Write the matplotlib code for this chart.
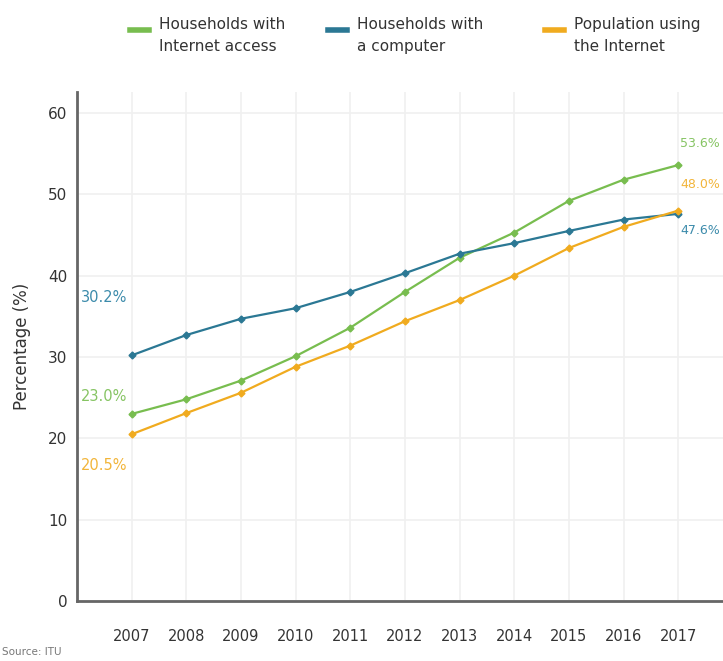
import matplotlib
matplotlib.use("Agg")
import matplotlib.pyplot as plt

years = [2007, 2008, 2009, 2010, 2011, 2012, 2013, 2014, 2015, 2016, 2017]
internet_access = [23.0, 24.8, 27.1, 30.1, 33.6, 38.0, 42.2, 45.3, 49.2, 51.8, 53.6]
computer = [30.2, 32.7, 34.7, 36.0, 38.0, 40.3, 42.7, 44.0, 45.5, 46.9, 47.6]
internet_users = [20.5, 23.1, 25.6, 28.8, 31.4, 34.4, 37.0, 40.0, 43.4, 46.0, 48.0]

series_names = ["Households with\nInternet access", "Households with\na computer",
                "Population using\nthe Internet"]
yticks = [0, 10, 20, 30, 40, 50, 60]

GREEN = "#78bd4f"
BLUE = "#2b7894"
ORANGE = "#f0ab1f"
GREEN_TXT = "#86c463"
BLUE_TXT = "#3c8bab"
ORANGE_TXT = "#f2b53a"

plt.rcParams["font.family"] = ["DejaVu Sans"]

fig = plt.figure(figsize=(7.23, 6.61), dpi=100)
ax = fig.add_axes([0.1065, 0.0908, 0.8935, 0.7702])

series = [(internet_access, GREEN), (computer, BLUE), (internet_users, ORANGE)]
for vals, col in series:
    ax.plot(years, vals, color=col, lw=1.6, marker="D", ms=3.5, zorder=3)

ax.set_xlim(2006.0, 2017.82)
ax.set_ylim(0, 62.6)
ax.set_xticks(years)
ax.set_xticklabels([str(y) for y in years], fontsize=10.5, color="#333333")
ax.set_yticks(yticks)
ax.set_yticklabels([str(t) for t in yticks], fontsize=11, color="#333333")
ax.tick_params(axis="y", length=0, pad=7)
ax.tick_params(axis="x", length=0, pad=20)
ax.grid(True, color="#f0f0f0", lw=1.2)
ax.set_axisbelow(True)
for s in ["top", "right"]:
    ax.spines[s].set_visible(False)
for s in ["left", "bottom"]:
    ax.spines[s].set_color("#666666")
    ax.spines[s].set_linewidth(2)
ax.set_ylabel("Percentage (%)", fontsize=12, color="#333333", labelpad=12)

# start and end value labels
lx0 = 2006.08
ax.text(lx0, 37.3, f"{computer[0]:.1f}%", color=BLUE_TXT, fontsize=10.5, va="center")
ax.text(lx0, 25.1, f"{internet_access[0]:.1f}%", color=GREEN_TXT, fontsize=10.5, va="center")
ax.text(lx0, 16.7, f"{internet_users[0]:.1f}%", color=ORANGE_TXT, fontsize=10.5, va="center")
lx1 = 2017.04
ax.text(lx1, 56.3, f"{internet_access[-1]:.1f}%", color=GREEN_TXT, fontsize=9, va="center")
ax.text(lx1, 51.2, f"{internet_users[-1]:.1f}%", color=ORANGE_TXT, fontsize=9, va="center")
ax.text(lx1, 45.6, f"{computer[-1]:.1f}%", color=BLUE_TXT, fontsize=9, va="center")

# legend
leg_x = [130 / 723, 328 / 723, 545 / 723]
for (vals, col), name, lx in zip(series, series_names, leg_x):
    fig.add_artist(plt.Line2D([lx, lx + 0.026], [0.955, 0.955], color=col, lw=4,
                              transform=fig.transFigure))
    fig.text(lx + 0.04, 0.974, name, fontsize=11, color="#333333",
             va="top", ha="left", linespacing=1.6)

fig.text(0.003, 0.006, "Source: ITU", fontsize=7.5, color="#777777", ha="left", va="bottom")

fig.savefig("out.png", dpi=100)
